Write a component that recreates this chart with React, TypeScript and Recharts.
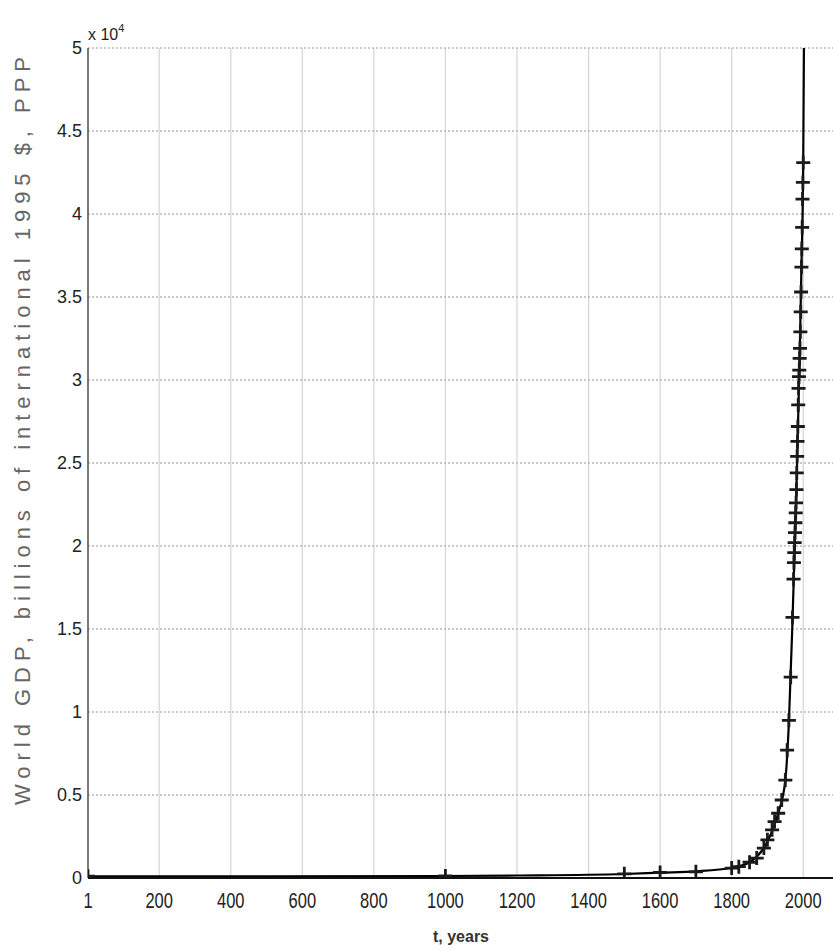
import React from "react";
import {
  ComposedChart,
  Line,
  Scatter,
  XAxis,
  YAxis,
  CartesianGrid,
} from "recharts";

// Observed data points (markers): year, world GDP in billions of 1995 $
const years = [
  1, 1000, 1500, 1600, 1700, 1800, 1820, 1850, 1870, 1890, 1900, 1913, 1920,
  1930, 1940, 1950, 1955, 1960, 1965, 1970, 1973, 1974, 1975, 1976, 1977, 1978,
  1979, 1980, 1981, 1982, 1983, 1984, 1985, 1986, 1987, 1988, 1989, 1990, 1991,
  1992, 1993, 1994, 1995, 1996, 1997, 1998, 1999, 2000,
];
const gdp = [
  110, 120, 250, 330, 370, 600, 680, 950, 1200, 1800, 2300, 2900, 3400, 3900,
  4700, 5900, 7700, 9500, 12100, 15700, 18000, 19000, 19600, 20200, 20800,
  21400, 22000, 22600, 23400, 24400, 25400, 26300, 27200, 28500, 29500, 30200,
  30600, 31300, 31900, 32900, 34100, 35300, 36800, 37900, 39200, 40900, 41900,
  43100,
];

// Curve
const curveYears = [
  1, 500, 1000, 1200, 1500, 1600, 1700, 1800, 1850, 1900, 1930, 1950, 1960,
  1970, 1980, 1990, 1995, 2000, 2002,
];
const curveValues = [
  100, 105, 120, 150, 240, 320, 400, 620, 950, 2200, 3900, 5900, 9400, 15500,
  22600, 31300, 36800, 43100, 50000,
];

const xTicks = [1, 200, 400, 600, 800, 1000, 1200, 1400, 1600, 1800, 2000];
const yTicks = [0, 5000, 10000, 15000, 20000, 25000, 30000, 35000, 40000, 45000, 50000];

const points = years.map((y, i) => ({ year: y, gdp: gdp[i] }));
const curve = curveYears.map((y, i) => ({ year: y, fit: curveValues[i] }));

const FONT = "'Liberation Sans', Arial, Helvetica, sans-serif";

const Plus = (props: any) => {
  const { cx, cy } = props;
  if (cx == null || cy == null) return null;
  return (
    <path
      d={`M${cx - 7},${cy}H${cx + 7}M${cx},${cy - 7}V${cy + 7}`}
      stroke="#1a1a1a"
      strokeWidth={2.8}
      fill="none"
    />
  );
};

const XTick = (props: any) => {
  const { x, y, payload } = props;
  return (
    <g transform={`translate(${x},${y})`}>
      <text
        transform="scale(0.75,1)"
        textAnchor="middle"
        dy="0.71em"
        fontSize={22}
        fontFamily={FONT}
        fill="#222"
      >
        {payload.value}
      </text>
    </g>
  );
};

const YTick = (props: any) => {
  const { x, y, payload } = props;
  return (
    <text
      x={x}
      y={y}
      textAnchor="end"
      dy="0.35em"
      fontSize={18}
      fontFamily={FONT}
      fill="#222"
    >
      {String(payload.value / 10000)}
    </text>
  );
};

export default function App() {
  return (
    <div
      style={{
        position: "fixed",
        left: 0,
        top: 0,
        width: 833,
        height: 951,
        overflow: "hidden",
        background: "#fff",
      }}
    >
      <ComposedChart
        width={845}
        height={951}
        margin={{ top: 48, right: 6, left: 0, bottom: 33 }}
      >
        <CartesianGrid
          horizontal={false}
          vertical={true}
          stroke="#d4d4d4"
          strokeWidth={1.2}
        />
        <CartesianGrid
          horizontal={true}
          vertical={false}
          stroke="#b8b8b8"
          strokeDasharray="2 2"
          strokeWidth={1.5}
        />
        <XAxis
          dataKey="year"
          type="number"
          domain={[1, 2100]}
          ticks={xTicks}
          allowDataOverflow
          height={40}
          tickSize={0}
          tickMargin={14}
          tick={<XTick />}
          axisLine={{ stroke: "#111", strokeWidth: 2 }}
          tickLine={false}
        />
        <YAxis
          type="number"
          domain={[0, 50000]}
          ticks={yTicks}
          allowDataOverflow
          width={88}
          tickSize={0}
          tickMargin={6}
          tick={<YTick />}
          axisLine={{ stroke: "#555", strokeWidth: 1.5 }}
          tickLine={false}
        />
        <Line
          data={curve}
          dataKey="fit"
          type="monotone"
          stroke="#000"
          strokeWidth={2.2}
          dot={false}
          isAnimationActive={false}
        />
        <Scatter
          data={points}
          dataKey="gdp"
          shape={<Plus />}
          isAnimationActive={false}
        />
      </ComposedChart>
      <svg
        width={833}
        height={951}
        style={{ position: "absolute", left: 0, top: 0, pointerEvents: "none" }}
      >
        <text x={88} y={40} fontSize={16} fontFamily={FONT} fill="#222">
          x 10
          <tspan fontSize={11} dy={-8}>
            4
          </tspan>
        </text>
        <text
          transform="translate(22,431) rotate(-90)"
          textAnchor="middle"
          dominantBaseline="central"
          fontSize={22}
          fontFamily={FONT}
          fill="#666"
          textLength={748}
          lengthAdjust="spacing"
        >
          World GDP, billions of international 1995 $, PPP
        </text>
        <text
          x={461}
          y={942}
          textAnchor="middle"
          fontSize={16}
          fontWeight="bold"
          fontFamily={FONT}
          fill="#333"
        >
          t, years
        </text>
      </svg>
    </div>
  );
}
